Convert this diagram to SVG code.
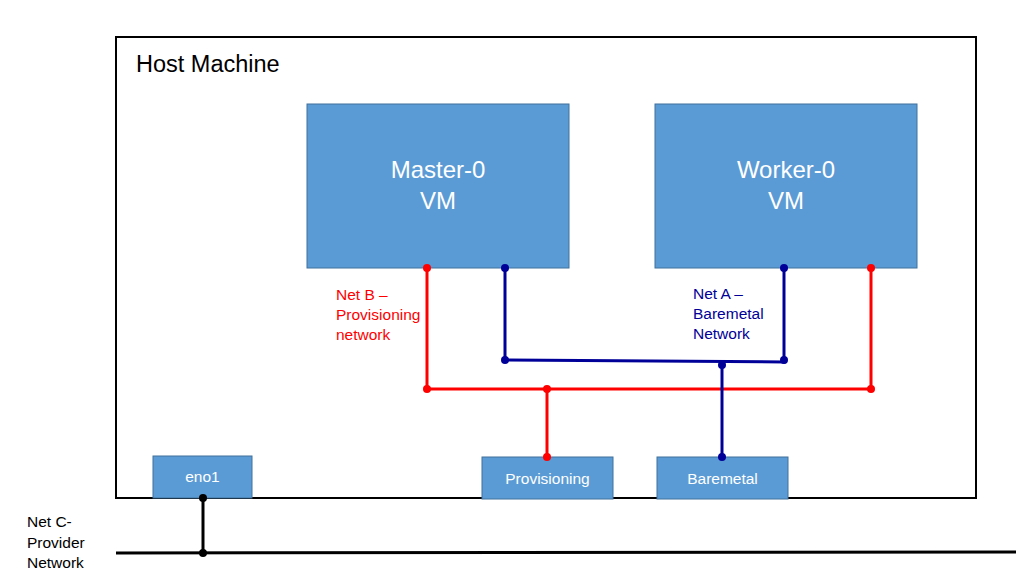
<svg xmlns="http://www.w3.org/2000/svg" width="1016" height="576" viewBox="0 0 1016 576">
<style>
text{font-family:"Liberation Sans",Arial,sans-serif}
.box{fill:#5B9BD5;stroke:#41719C;stroke-width:1}
.wt{fill:#fff}
.red{stroke:#FF0000;stroke-width:3;fill:none}
.blue{stroke:#000099;stroke-width:3;fill:none}
.blk{stroke:#000;stroke-width:3;fill:none}
.dr{fill:#FF0000}.db{fill:#000099}.dk{fill:#000}
.lbl{font-size:15.5px}
</style>
<rect width="1016" height="576" fill="#fff"/>
<g id="host">
<rect x="116" y="37" width="860" height="461" fill="#fff" stroke="#000" stroke-width="2"/>
<text x="136" y="72" font-size="23.5">Host Machine</text>
</g>
<g id="master">
<rect class="box" x="307" y="104" width="262" height="164"/>
<text class="wt" x="438" y="178" font-size="24" text-anchor="middle">Master-0</text>
<text class="wt" x="438" y="209" font-size="24" text-anchor="middle">VM</text>
</g>
<g id="worker">
<rect class="box" x="655" y="104" width="262" height="164"/>
<text class="wt" x="786" y="178" font-size="24" text-anchor="middle">Worker-0</text>
<text class="wt" x="786" y="209" font-size="24" text-anchor="middle">VM</text>
</g>
<g id="eno1">
<rect class="box" x="153" y="456" width="99" height="42"/>
<text class="wt lbl" x="202.5" y="482" text-anchor="middle">eno1</text>
</g>
<g id="provisioning">
<rect class="box" x="482" y="457" width="131" height="42"/>
<text class="wt lbl" x="547.5" y="484" text-anchor="middle">Provisioning</text>
</g>
<g id="baremetal">
<rect class="box" x="657" y="457" width="131" height="42"/>
<text class="wt lbl" x="722.5" y="484" text-anchor="middle">Baremetal</text>
</g>
<g id="labels">
<text class="lbl" fill="#FF0000"><tspan x="336" y="300">Net B –</tspan><tspan x="336" y="320">Provisioning</tspan><tspan x="336" y="340">network</tspan></text>
<text class="lbl" fill="#000099"><tspan x="693" y="299">Net A –</tspan><tspan x="693" y="319">Baremetal</tspan><tspan x="693" y="339">Network</tspan></text>
<text class="lbl" fill="#000"><tspan x="27" y="527">Net C-</tspan><tspan x="27" y="548">Provider</tspan><tspan x="27" y="568">Network</tspan></text>
</g>
<g id="connectors">
<polyline class="red" points="427,268 427,389 871,389 871,268"/>
<line class="red" x1="547" y1="389" x2="547" y2="457"/>
<polyline class="blue" points="505,268 505,360 784,362 784,268"/>
<line class="blue" x1="722" y1="365" x2="722" y2="457"/>
<line class="blk" x1="203" y1="498" x2="203" y2="553"/>
<line class="blk" x1="116" y1="553" x2="1016" y2="552"/>
<circle class="dr" cx="427" cy="268" r="4"/>
<circle class="dr" cx="871" cy="268" r="4"/>
<circle class="dr" cx="427" cy="389" r="4"/>
<circle class="dr" cx="871" cy="389" r="4"/>
<circle class="dr" cx="547" cy="389" r="4"/>
<circle class="dr" cx="547" cy="457" r="4"/>
<circle class="db" cx="505" cy="268" r="4"/>
<circle class="db" cx="784" cy="268" r="4"/>
<circle class="db" cx="505" cy="360" r="4"/>
<circle class="db" cx="784" cy="360" r="4"/>
<circle class="db" cx="722" cy="365" r="4"/>
<circle class="db" cx="722" cy="457" r="4"/>
<circle class="dk" cx="203" cy="498" r="4"/>
<circle class="dk" cx="203" cy="553" r="4"/>
</g>
</svg>
